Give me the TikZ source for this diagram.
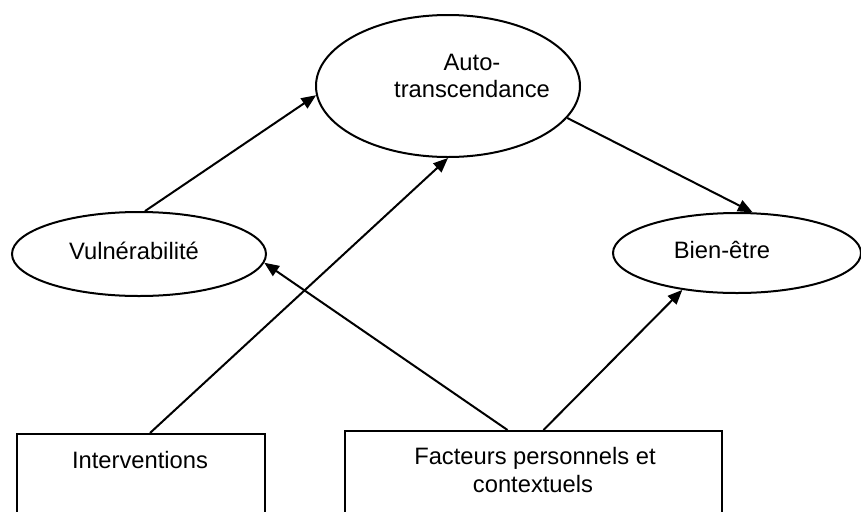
\documentclass[tikz,border=0pt]{standalone}
\usepackage{fontspec}
\setmainfont{Liberation Sans}
\usetikzlibrary{shapes.geometric,arrows.meta,calc}
\begin{document}
\begin{tikzpicture}[x=0.75pt,y=-0.75pt,
  ellnode/.style={ellipse,draw,line width=1.5pt,inner sep=0pt},
  boxnode/.style={rectangle,draw,line width=1.5pt,inner sep=0pt},
  lbl/.style={anchor=base,inner sep=0pt,font=\fontsize{17.8}{21}\selectfont},
  conn/.style={line width=1.5pt,-{Triangle[length=11pt,width=9pt]}}]
\useasboundingbox (0,0) rectangle (861,511);
\clip (0,0) rectangle (861,511);
% ellipses
\node[ellnode,minimum width=264*0.75pt,minimum height=142*0.75pt] (auto) at (448,86) {};
\node[ellnode,minimum width=254*0.75pt,minimum height=84*0.75pt] (vul) at (139,254) {};
\node[ellnode,minimum width=248*0.75pt,minimum height=80*0.75pt] (bien) at (737,253) {};
% boxes (cut by the lower edge)
\node[boxnode,minimum width=248*0.75pt,minimum height=126*0.75pt] (int) at (141,497) {};
\node[boxnode,minimum width=377*0.75pt,minimum height=129*0.75pt] (fac) at (533.5,495.5) {};
% labels
\node[lbl] (tauto1) at (472,70) {Auto-};
\node[lbl] (tauto2) at (472,97) {transcendance};
\node[lbl] (tvul) at (134,259) {Vulnérabilité};
\node[lbl] (tbien) at (722,258) {Bien-être};
\node[lbl] (tint) at (140,468) {Interventions};
\node[lbl] (tfac1) at (535,464) {Facteurs personnels et};
\node[lbl] (tfac2) at (533,492) {contextuels};
% connectors
\draw[conn] (vul.82) -- (auto.184);
\draw[conn] ($(int.north)+(9,0)$) -- (auto.south);
\draw[conn] (auto.-15) -- (bien.69);
\draw[conn] ($(fac.north)+(-26,0)$) -- (vul.-4);
\draw[conn] ($(fac.north)+(10,0)$) -- (bien.214);
\end{tikzpicture}
\end{document}
